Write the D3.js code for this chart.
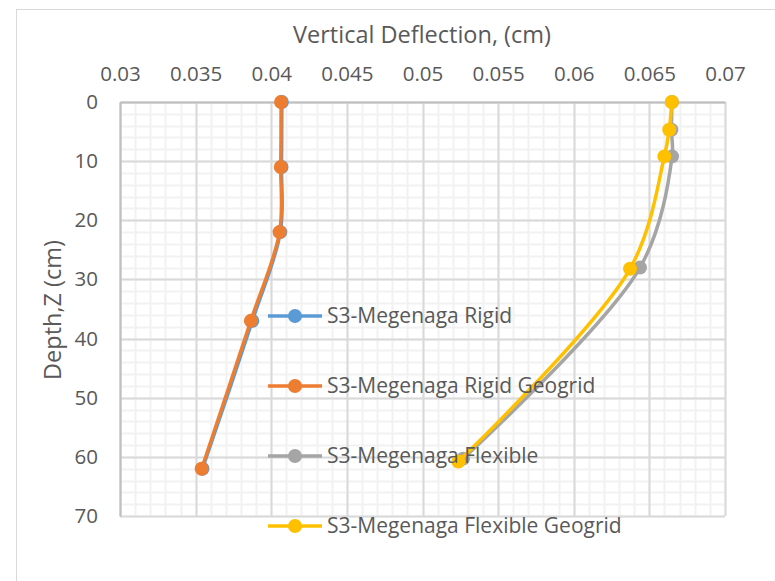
<!DOCTYPE html>
<html>
<head>
<meta charset="utf-8">
<script src="https://cdn.jsdelivr.net/npm/d3@7"></script>
<style>
  body { margin: 0; background: #fff; }
  text { font-family: "Open Sans", sans-serif; fill: #595959; }
</style>
</head>
<body>
<script>
// depth readings (cm) and vertical deflection (cm) for each series
var depthRigid = [0, 11, 22, 37, 62];
var rigid = [0.04070, 0.04068, 0.04060, 0.03875, 0.03545];
var rigidGeogrid = [0.04065, 0.04063, 0.04055, 0.03865, 0.03540];

var depthFlex = [0, 4.7, 9.2, 28.0, 60.3];
var flexible = [0.06650, 0.06646, 0.06650, 0.06438, 0.05268];
var depthFlexGeo = [0, 4.7, 9.2, 28.2, 60.8];
var flexibleGeogrid = [0.06648, 0.06631, 0.06599, 0.06372, 0.05237];

var seriesNames = ["S3-Megenaga Rigid", "S3-Megenaga Rigid Geogrid",
  "S3-Megenaga Flexible", "S3-Megenaga Flexible Geogrid"];
var colors = ["#5B9BD5", "#ED7D31", "#A5A5A5", "#FFC000"];

var xTicks = [0.03, 0.035, 0.04, 0.045, 0.05, 0.055, 0.06, 0.065, 0.07];
var yTicks = [0, 10, 20, 30, 40, 50, 60, 70];

var series = [
  { name: seriesNames[0], color: colors[0], pts: d3.zip(rigid, depthRigid) },
  { name: seriesNames[1], color: colors[1], pts: d3.zip(rigidGeogrid, depthRigid) },
  { name: seriesNames[2], color: colors[2], pts: d3.zip(flexible, depthFlex) },
  { name: seriesNames[3], color: colors[3], pts: d3.zip(flexibleGeogrid, depthFlexGeo) }
];

var width = 775, height = 581;
var svg = d3.select("body").append("svg")
  .attr("width", width)
  .attr("height", height);

// chart border
svg.append("rect")
  .attr("x", 16.5).attr("y", 9.5)
  .attr("width", 800).attr("height", 600)
  .attr("fill", "none").attr("stroke", "#D9D9D9");

var x = d3.scaleLinear().domain([0.03, 0.07]).range([120, 725]);
var y = d3.scaleLinear().domain([0, 70]).range([102, 516]);

// minor grid
var grid = svg.append("g");
grid.selectAll(".mx")
  .data(d3.range(0.03, 0.0705, 0.001))
  .join("line")
    .attr("x1", d => Math.round(x(d)) + 0.5).attr("x2", d => Math.round(x(d)) + 0.5)
    .attr("y1", y(0)).attr("y2", y(70))
    .attr("stroke", "#F2F2F2").attr("stroke-width", 2);
grid.selectAll(".my")
  .data(d3.range(0, 71, 2))
  .join("line")
    .attr("y1", d => Math.round(y(d)) + 0.5).attr("y2", d => Math.round(y(d)) + 0.5)
    .attr("x1", x(0.03)).attr("x2", x(0.07))
    .attr("stroke", "#F2F2F2").attr("stroke-width", 2);

// major grid
grid.append("g").selectAll("line")
  .data(xTicks)
  .join("line")
    .attr("x1", d => Math.round(x(d)) + 0.5).attr("x2", d => Math.round(x(d)) + 0.5)
    .attr("y1", y(0)).attr("y2", y(70))
    .attr("stroke", "#D9D9D9").attr("stroke-width", 2);
grid.append("g").selectAll("line")
  .data(yTicks)
  .join("line")
    .attr("y1", d => Math.round(y(d)) + 0.5).attr("y2", d => Math.round(y(d)) + 0.5)
    .attr("x1", x(0.03)).attr("x2", x(0.07))
    .attr("stroke", "#D9D9D9").attr("stroke-width", 2);

// axes (top x, left y)
var xAxis = svg.append("g")
  .attr("transform", "translate(0," + y(0) + ")")
  .call(d3.axisTop(x).tickValues(xTicks).tickSize(0).tickPadding(21)
    .tickFormat(d => d3.format("~g")(+d.toFixed(3))));
var yAxis = svg.append("g")
  .attr("transform", "translate(" + x(0.03) + ",0)")
  .call(d3.axisLeft(y).tickValues(yTicks).tickSize(0).tickPadding(22));
[xAxis, yAxis].forEach(a => {
  a.select(".domain").attr("stroke", "#BFBFBF").attr("stroke-width", 2);
  a.selectAll("text").attr("font-size", 20.5).attr("fill", "#595959")
    .attr("font-family", "'Open Sans', sans-serif");
});

// axis titles
svg.append("text")
  .attr("x", 422).attr("y", 43)
  .attr("text-anchor", "middle")
  .attr("font-size", 23.5)
  .text("Vertical Deflection, (cm)");
svg.append("text")
  .attr("transform", "translate(61,310) rotate(-90)")
  .attr("text-anchor", "middle")
  .attr("font-size", 23.5)
  .text("Depth,Z (cm)");

// series
var line = d3.line()
  .x(d => x(d[0])).y(d => y(d[1]))
  .curve(d3.curveCatmullRom);

var sg = svg.append("g").selectAll("g")
  .data(series)
  .join("g");
sg.append("path")
  .attr("d", d => line(d.pts))
  .attr("fill", "none")
  .attr("stroke", d => d.color)
  .attr("stroke-width", 3.5)
  .attr("stroke-linejoin", "round");
sg.selectAll("circle")
  .data(d => d.pts.map(p => ({ p: p, color: d.color })))
  .join("circle")
    .attr("cx", d => x(d.p[0])).attr("cy", d => y(d.p[1]))
    .attr("r", 7)
    .attr("fill", d => d.color);

// legend
var legend = svg.append("g").selectAll("g")
  .data(series)
  .join("g")
    .attr("transform", (d, i) => "translate(268," + (316 + i * 70) + ")");
legend.append("line")
  .attr("x1", 0).attr("x2", 54)
  .attr("stroke", d => d.color).attr("stroke-width", 3.5);
legend.append("circle")
  .attr("cx", 27).attr("r", 7)
  .attr("fill", d => d.color);
legend.append("text")
  .attr("x", 59).attr("dy", "0.35em")
  .attr("font-size", 21)
  .text(d => d.name);
</script>
</body>
</html>
